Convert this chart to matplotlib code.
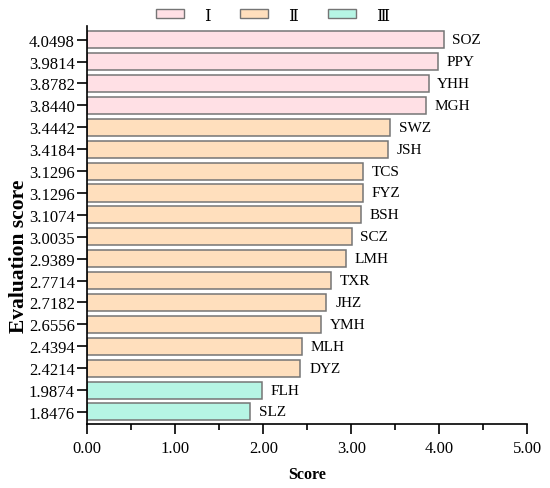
import matplotlib
matplotlib.use("Agg")
import matplotlib.pyplot as plt
from matplotlib.patches import Patch
from matplotlib.ticker import MultipleLocator

plt.rcParams['font.family'] = ['Liberation Serif', 'DejaVu Serif', 'Noto Sans CJK SC']

# data, top to bottom
names = ["SOZ", "PPY", "YHH", "MGH", "SWZ", "JSH", "TCS", "FYZ", "BSH",
         "SCZ", "LMH", "TXR", "JHZ", "YMH", "MLH", "DYZ", "FLH", "SLZ"]
scores = [4.0498, 3.9814, 3.8782, 3.8440, 3.4442, 3.4184, 3.1296, 3.1296, 3.1074,
          3.0035, 2.9389, 2.7714, 2.7182, 2.6556, 2.4394, 2.4214, 1.9874, 1.8476]
grades = ["I"] * 4 + ["II"] * 12 + ["III"] * 2

colors = {"I": "#FFE0E5", "II": "#FFDFBD", "III": "#B6F5E4"}
legend_text = {"I": "Ⅰ", "II": "Ⅱ", "III": "Ⅲ"}
edge = "#757575"

fig = plt.figure(figsize=(5.5, 4.89), dpi=100)
ax = fig.add_axes([0.1587, 0.1309, 0.8, 0.8139])

n = len(scores)
ypos = list(range(n - 1, -1, -1))
ax.barh(ypos, scores, height=0.78, color=[colors[g] for g in grades],
        edgecolor=edge, linewidth=1.1)

for y, s, name in zip(ypos, scores, names):
    ax.text(s + 0.1, y, name, va="center", ha="left", fontsize=11)

ax.set_xlim(0, 5)
ax.set_ylim(-0.55, n - 1 + 0.625)
ax.set_yticks(ypos)
ax.set_yticklabels(["%.4f" % s for s in scores], fontsize=12)
ax.xaxis.set_major_locator(MultipleLocator(1))
ax.xaxis.set_minor_locator(MultipleLocator(0.5))
ax.set_xticklabels(["%.2f" % v for v in ax.get_xticks()], fontsize=12)
ax.tick_params(direction="out", length=7.5, width=1.2)
ax.tick_params(which="minor", direction="out", length=4.5, width=1.2)
ax.tick_params(axis="x", pad=4)
ax.tick_params(axis="y", length=7, pad=2)

for side in ["top", "right"]:
    ax.spines[side].set_visible(False)
for side in ["left", "bottom"]:
    ax.spines[side].set_linewidth(1.2)

ax.set_xlabel("Score", fontsize=11.5, fontweight="bold", va="center")
ax.xaxis.set_label_coords(0.5, -0.1256)
ax.set_ylabel("Evaluation score", fontsize=15.5, fontweight="bold", va="center")
ax.yaxis.set_label_coords(-0.155, 0.423)

handles = [Patch(facecolor=colors[g], edgecolor=edge, label=legend_text[g])
           for g in ["I", "II", "III"]]
fig.legend(handles=handles, loc="center", bbox_to_anchor=(0.4955, 0.966),
           ncol=3, frameon=False, fontsize=12, handlelength=1.68, handleheight=0.42,
           columnspacing=1.8, handletextpad=1.2)

fig.savefig("out.png", dpi=100)
